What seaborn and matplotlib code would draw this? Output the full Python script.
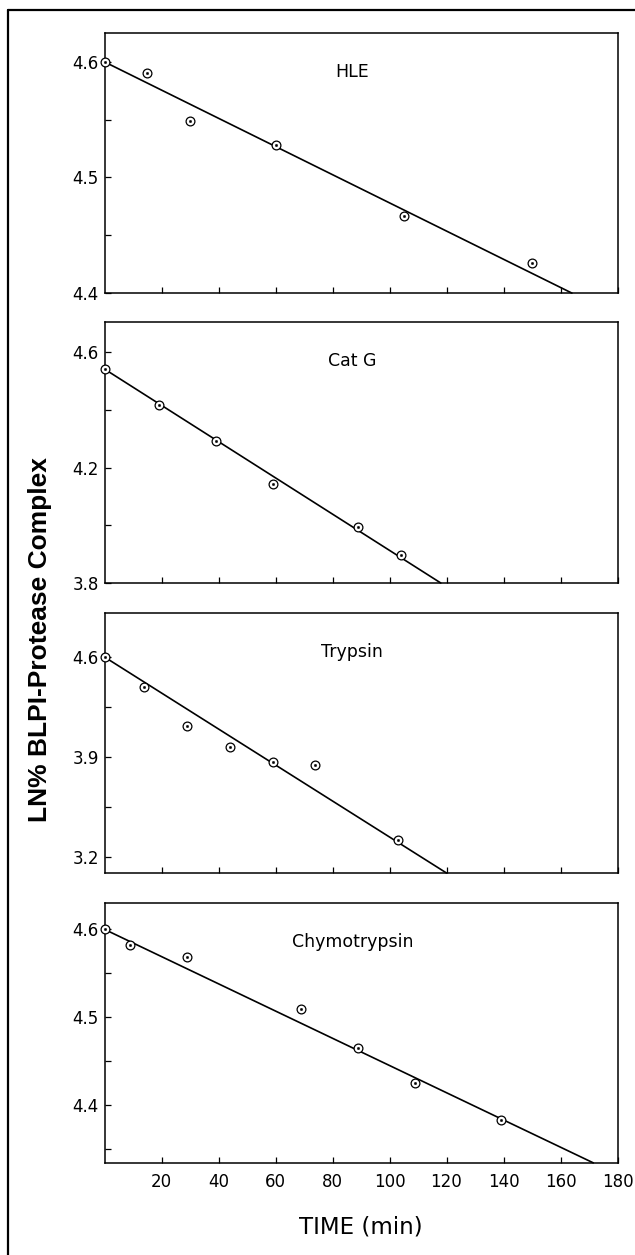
import numpy as np
import pandas as pd
import matplotlib
matplotlib.use("Agg")
import matplotlib.pyplot as plt
from matplotlib.lines import Line2D
import seaborn as sns

# Time course of ln(% BLPI-protease complex) for four proteases
enzymes = ["HLE", "Cat G", "Trypsin", "Chymotrypsin"]

hle_time = [0, 15, 30, 60, 105, 150]
hle_ln = [4.600, 4.590, 4.549, 4.528, 4.467, 4.426]

catg_time = [0, 19, 39, 59, 89, 104]
catg_ln = [4.541, 4.415, 4.292, 4.142, 3.994, 3.897]

tryp_time = [0, 14, 29, 44, 59, 74, 103]
tryp_ln = [4.600, 4.390, 4.117, 3.970, 3.865, 3.846, 3.321]

chymo_time = [0, 9, 29, 69, 89, 109, 139]
chymo_ln = [4.600, 4.582, 4.568, 4.509, 4.465, 4.425, 4.383]

# first-order fits: intercept, slope (per min), time where the line leaves the panel
fit_intercept = [4.600, 4.541, 4.600, 4.600]
fit_slope = [-0.00122, -0.00628, -0.0126, -0.00155]
fit_end = [164, 118, 120, 171.5]

# y-axis ranges, labelled ticks and unlabelled ticks
y_limits = [(4.40, 4.625), (3.80, 4.704), (3.088, 4.908), (4.334, 4.630)]
y_labeled = [[4.4, 4.5, 4.6], [3.8, 4.2, 4.6], [3.2, 3.9, 4.6], [4.4, 4.5, 4.6]]
y_unlabeled = [[4.45, 4.55], [4.0, 4.4], [3.55, 4.25], [4.35, 4.45, 4.55]]

x_ticks = [20, 40, 60, 80, 100, 120, 140, 160, 180]

times = [hle_time, catg_time, tryp_time, chymo_time]
values = [hle_ln, catg_ln, tryp_ln, chymo_ln]

sns.set_theme(style="white")
plt.rcParams["font.family"] = ["DejaVu Sans"]

W, H = 635, 1255
fig = plt.figure(figsize=(W / 100, H / 100), dpi=100)

left = 104.5 / W
width = (617.5 - 104.5) / W
panel_tops = [33, 322, 613, 903]
panel_bottoms = [293, 583, 873, 1163]

for i, name in enumerate(enzymes):
    top, bot = panel_tops[i], panel_bottoms[i]
    ax = fig.add_axes([left, 1 - bot / H, width, (bot - top) / H])
    df = pd.DataFrame({"time": times[i], "ln": values[i]})

    # fitted line
    t_fit = np.array([0.0, fit_end[i]])
    fit_df = pd.DataFrame({"time": t_fit,
                           "ln": fit_intercept[i] + fit_slope[i] * t_fit})
    sns.lineplot(data=fit_df, x="time", y="ln", ax=ax, color="black",
                 linewidth=1.2, clip_on=False, zorder=2)

    # open circles with a centre dot
    sns.scatterplot(data=df, x="time", y="ln", ax=ax, marker="o", s=40,
                    facecolor="white", edgecolor="black", linewidth=0.9,
                    clip_on=False, zorder=3)
    sns.scatterplot(data=df, x="time", y="ln", ax=ax, marker="o", s=3,
                    color="black", edgecolor="black", linewidth=0.3,
                    clip_on=False, zorder=4)

    ax.set_xlim(0, 180)
    ax.set_ylim(*y_limits[i])
    ax.set_xticks(x_ticks)
    yt = sorted(y_labeled[i] + y_unlabeled[i])
    ax.set_yticks(yt)
    ax.set_yticklabels([f"{v:.1f}" if v in y_labeled[i] else "" for v in yt])
    if i == len(enzymes) - 1:
        ax.set_xticklabels([str(v) for v in x_ticks])
    else:
        ax.set_xticklabels([])
    ax.set_xlabel("")
    ax.set_ylabel("")
    ax.tick_params(axis="both", direction="in", length=4.5, width=0.9,
                   color="black", labelsize=12, labelcolor="black")
    ax.tick_params(axis="x", pad=7)
    ax.tick_params(axis="y", pad=4)
    ax.tick_params(top=False, right=False, bottom=True, left=True)
    for sp in ax.spines.values():
        sp.set_color("black")
        sp.set_linewidth(1.1)
    ax.text(0.483, 0.85, name, transform=ax.transAxes, ha="center",
            va="center", fontsize=12.5, color="black")

fig.text(40 / W, 1 - 640 / H, "LN% BLPI-Protease Complex", rotation=90,
         ha="center", va="center", fontsize=19, fontweight="bold",
         family=["Liberation Sans", "DejaVu Sans"], color="black")
fig.text((104.5 + 617.5) / 2 / W, 1 - 1227 / H, "TIME (min)", ha="center",
         va="center", fontsize=16.5, color="black")

# frame around the figure (left and top edges)
fig.add_artist(Line2D([7.5 / W, 7.5 / W], [0, 1 - 10 / H], color="black",
                      linewidth=1.6, transform=fig.transFigure))
fig.add_artist(Line2D([7.5 / W, 1], [1 - 10 / H, 1 - 10 / H], color="black",
                      linewidth=1.6, transform=fig.transFigure))

fig.savefig("out.png", dpi=100, facecolor="white")
